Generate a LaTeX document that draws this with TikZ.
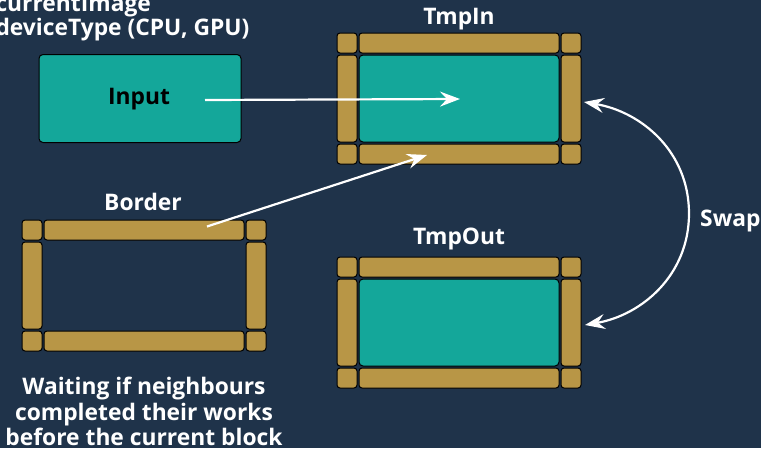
\documentclass[tikz,border=0pt]{standalone}
\usepackage{fontspec}
\setmainfont{Open Sans}
\usetikzlibrary{arrows.meta}

\definecolor{bgnavy}{RGB}{31,51,74}
\definecolor{corefill}{RGB}{20,167,154}
\definecolor{edgefill}{RGB}{184,150,70}

\tikzset{
  cell/.style={draw=black, line width=1pt, fill=edgefill, rounded corners=3pt,
    inner sep=0pt, minimum width=20pt, minimum height=20pt},
  core/.style={draw=black, line width=1pt, fill=corefill, rounded corners=4pt,
    inner sep=0pt, minimum width=200pt, minimum height=87pt},
  hollow/.style={inner sep=0pt, minimum width=200pt, minimum height=87pt},
  lbl/.style={text=white, inner sep=0pt, font=\bfseries\fontsize{22.8}{22.5}\selectfont},
  flow/.style={draw=white, line width=2.2pt,
    -{Stealth[length=20pt, width=15pt, inset=7pt]}},
  swap/.style={draw=white, line width=2.2pt,
    {Stealth[length=20pt, width=15pt, inset=7pt]}-{Stealth[length=20pt, width=15pt, inset=7pt]}},
}

% A block with a one-cell halo: #1 name, (#2,#3) top-left corner, #4 style of the core
\newcommand\haloblock[4]{%
  \node[cell] (#1-tl) at (#2+10, #3+10) {};
  \node[cell, minimum width=200pt] (#1-t) at (#2+122, #3+10) {};
  \node[cell] (#1-tr) at (#2+234, #3+10) {};
  \node[cell, minimum height=87pt] (#1-l) at (#2+10, #3+65.5) {};
  \node[#4] (#1-c) at (#2+122, #3+65.5) {};
  \node[cell, minimum height=87pt] (#1-r) at (#2+234, #3+65.5) {};
  \node[cell] (#1-bl) at (#2+10, #3+121) {};
  \node[cell, minimum width=200pt] (#1-b) at (#2+122, #3+121) {};
  \node[cell] (#1-br) at (#2+234, #3+121) {};
}

\begin{document}
\begin{tikzpicture}[x=1pt, y=-1pt]
  \fill[bgnavy] (0,0) rectangle (761,448);
  \useasboundingbox (0,0) rectangle (761,448);
  \clip (0,0) rectangle (761,448);

  % heading of the input image (base anchor sits on the last line)
  \node[lbl, align=left, anchor=base east] (head) at (249.5,35.5)
    {currentImage\\deviceType (CPU, GPU)};

  % input image
  \node[core, minimum width=202pt, minimum height=88pt] (input) at (140,98.5) {};
  \node[lbl, text=black, anchor=base] (inputlbl) at (139,104.5) {Input};

  % temporary buffers and the border strip
  \haloblock{tin}{337}{33}{core}
  \haloblock{tout}{337}{257}{core}
  \haloblock{brd}{22}{220}{hollow}

  \node[lbl, anchor=base] (tinlbl) at (459,24.5) {TmpIn};
  \node[lbl, anchor=base] (toutlbl) at (459,244.5) {TmpOut};
  \node[lbl, anchor=base] (brdlbl) at (143,210.5) {Border};
  \node[lbl, anchor=base west] (swaplbl) at (700,226.5) {Swap};

  \node[lbl, align=center, anchor=base, font=\bfseries\fontsize{22.8}{25.5}\selectfont]
    (note) at (144,445.5) {Waiting if neighbours\\completed their works\\before the current block};

  % connectors
  \coordinate (inFrom) at (205,100);
  \coordinate (inTo) at (460,99);
  \coordinate (brdFrom) at (207,226.5);
  \coordinate (brdTo) at (427,155);
  \coordinate (swTop) at (584,102);
  \coordinate (swMid) at (689,213.5);
  \coordinate (swBot) at (585,325);

  \draw[flow] (inFrom) -- (inTo);
  \draw[flow] (brdFrom) -- (brdTo);
  \draw[swap] (swTop) .. controls (642,112) and (689,152) .. (swMid)
                      .. controls (689,275) and (642,315) .. (swBot);
\end{tikzpicture}
\end{document}
